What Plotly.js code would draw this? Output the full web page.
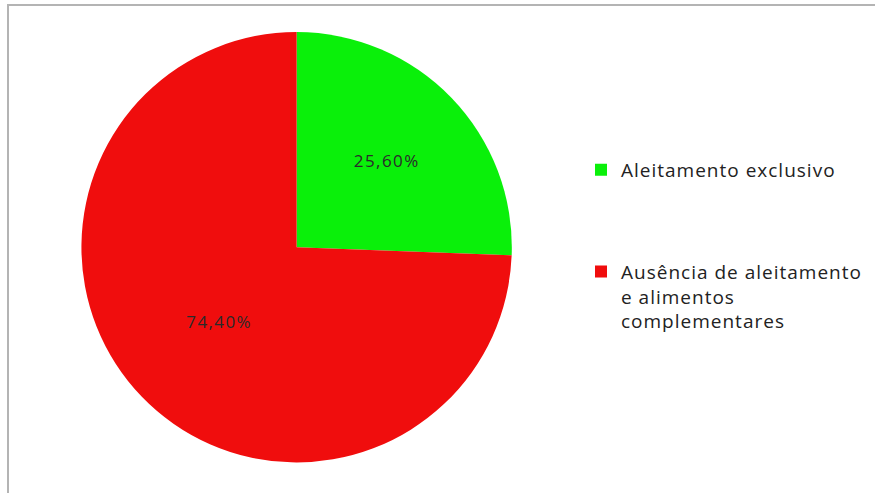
<!DOCTYPE html>
<html>
<head>
<meta charset="utf-8">
<script src="https://cdn.plot.ly/plotly-3.0.1.min.js"></script>
<style>
html,body{margin:0;padding:0;background:#fff;}
#chart{width:875px;height:493px;}
text.legendtext{letter-spacing:1px;}
text.slicetext{letter-spacing:1.4px;}
</style>
</head>
<body>
<div id="chart"></div>
<script>
// Data
const categories = ["Aleitamento exclusivo", "Ausência de aleitamento<br>e alimentos<br>complementares"];
const values = [25.6, 74.4];
const sliceColors = ["#0af00a", "#f00d0d"];

// Spacer lines so the legend entries sit apart like the reference
const legendLabels = [categories[0] + "<br> <br> <br> ", categories[1]];

const trace = {
  type: "pie",
  labels: legendLabels,
  values: values,
  sort: false,
  direction: "clockwise",
  rotation: 0,
  marker: { colors: sliceColors, line: { width: 0 } },
  textinfo: "percent",
  texttemplate: "%{percent:.2%}",
  textposition: "inside",
  insidetextorientation: "horizontal",
  insidetextfont: { family: "Open Sans, sans-serif", size: 17, color: "#2a2a2a" },
  hoverinfo: "label+percent",
  domain: { x: [0.092, 0.586], y: [0.062, 0.935] }
};

const layout = {
  width: 875,
  height: 493,
  margin: { l: 0, r: 0, t: 0, b: 0 },
  paper_bgcolor: "#ffffff",
  separators: ",.",
  showlegend: true,
  legend: {
    x: 0.664, y: 0.694, xanchor: "left", yanchor: "top",
    valign: "top",
    font: { family: "Open Sans, sans-serif", size: 19, color: "#222" },
    bgcolor: "rgba(0,0,0,0)"
  },
  shapes: [{
    type: "rect", xref: "paper", yref: "paper",
    x0: 8 / 875, x1: 1.02, y0: -0.02, y1: 1 - 5 / 493,
    line: { color: "#b4b4b4", width: 2 }
  }]
};

Plotly.newPlot("chart", [trace], layout, { displayModeBar: false, staticPlot: true });
</script>
</body>
</html>
